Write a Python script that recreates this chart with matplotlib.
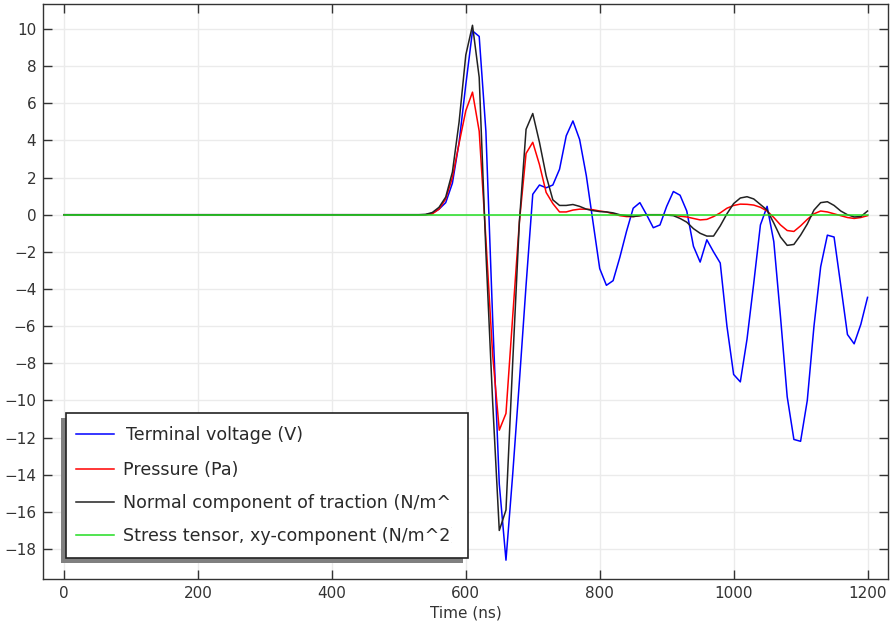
import matplotlib
matplotlib.use("Agg")
import matplotlib.pyplot as plt
from matplotlib.patches import Rectangle
from matplotlib.lines import Line2D
from matplotlib.transforms import Bbox, TransformedBbox

# sample times (ns): flat lead-in, then 10 ns steps
time = [0] + list(range(530, 1201, 10))

voltage = [0.0,
           0.0, 0.0, 0.08, 0.3, 0.65, 1.7, 3.9,
           7.0, 9.9, 9.6, 4.5, -5.5, -14.5, -18.6, -14.0, -9.0, -3.8,
           1.1, 1.6, 1.45, 1.6, 2.45, 4.25, 5.05, 4.05, 2.1, -0.4,
           -2.9, -3.8, -3.55, -2.3, -0.9, 0.35, 0.65, 0.0, -0.7, -0.55,
           0.45, 1.25, 1.05, 0.2, -1.7, -2.55, -1.35, -2.0, -2.6, -6.0,
           -8.6, -9.0, -6.7, -3.7, -0.55, 0.45, -1.45, -5.5, -9.8, -12.1,
           -12.2, -10.0, -6.0, -2.8, -1.1, -1.2, -3.8, -6.45, -6.95, -5.9,
           -4.45]

pressure = [0.0,
            0.0, 0.0, 0.05, 0.3, 0.85, 2.0, 3.85,
            5.6, 6.6, 4.5, -1.3, -7.5, -11.6, -10.7, -5.5, -0.4, 3.3,
            3.9, 2.7, 1.2, 0.6, 0.15, 0.15, 0.25, 0.3, 0.3, 0.27,
            0.2, 0.15, 0.05, -0.05, -0.1, -0.1, -0.05, 0.0, 0.0, 0.0,
            0.0, -0.02, -0.08, -0.12, -0.2, -0.28, -0.25, -0.1, 0.1, 0.35,
            0.5, 0.57, 0.56, 0.52, 0.4, 0.2, -0.15, -0.55, -0.85, -0.9,
            -0.6, -0.25, 0.05, 0.2, 0.15, 0.05, -0.05, -0.15, -0.2, -0.15,
            -0.05]

traction = [0.0,
            0.0, 0.02, 0.12, 0.4, 0.95, 2.3, 5.0,
            8.6, 10.2, 7.4, -2.0, -10.0, -17.0, -15.9, -8.0, -0.4, 4.6,
            5.45, 3.9, 2.1, 0.8, 0.5, 0.5, 0.55, 0.45, 0.3, 0.22,
            0.17, 0.15, 0.1, 0.0, -0.05, -0.1, -0.05, 0.0, 0.0, 0.0,
            -0.02, -0.05, -0.2, -0.4, -0.75, -1.0, -1.15, -1.15, -0.6, 0.05,
            0.6, 0.9, 0.97, 0.85, 0.55, 0.25, -0.45, -1.2, -1.65, -1.6,
            -1.1, -0.5, 0.25, 0.65, 0.7, 0.5, 0.2, 0.0, -0.12, -0.1,
            0.2]

stress_time = [0, 1200]
stress_xy = [0.0, 0.0]

labels = ["Terminal voltage (V)", "Pressure (Pa)",
          "Normal component of traction (N/m^2)",
          "Stress tensor, xy-component (N/m^2)"]
colors = ["#0000ff", "#ff0000", "#222222", "#22dd22"]

W, H = 890, 635
fig = plt.figure(figsize=(W / 100, H / 100), dpi=100)
ax = fig.add_axes([43.3 / W, 1 - 579.3 / H, (888.3 - 43.3) / W, (579.3 - 4.3) / H])

ax.plot(time, voltage, color=colors[0], lw=1.1)
ax.plot(time, pressure, color=colors[1], lw=1.1)
ax.plot(time, traction, color=colors[2], lw=1.1)
ax.plot(stress_time, stress_xy, color=colors[3], lw=1.1)

ax.set_xlim(-31, 1231)
ax.set_ylim(-19.63, 11.33)
ax.set_xticks(range(0, 1201, 200))
ax.set_yticks(range(-18, 11, 2))
ax.grid(True, color="#ebebeb", lw=1.0)
ax.set_axisbelow(True)
ax.tick_params(direction="in", length=6.5, width=1, top=True, right=True,
               labelsize=11, labelcolor="#333333", color="#333333", pad=5)
for s in ax.spines.values():
    s.set_color("#333333")
    s.set_linewidth(1.0)
ax.set_xlabel("Time (ns)", fontsize=11, color="#333333", labelpad=3)


def fx(px):
    return px / W


def fy(py):
    return 1 - py / H


# legend box with drop shadow, drawn by hand so long labels get cut at the frame
x0, x1, y0, y1 = 66, 468, 413, 558
fig.add_artist(Rectangle((fx(x0 - 5), fy(y1 + 5)), (x1 - x0) / W, (y1 - y0) / H,
                         transform=fig.transFigure, facecolor="#808080",
                         edgecolor="none", zorder=10))
fig.add_artist(Rectangle((fx(x0), fy(y1)), (x1 - x0) / W, (y1 - y0) / H,
                         transform=fig.transFigure, facecolor="white",
                         edgecolor="#222222", lw=1.2, zorder=11))
clip = TransformedBbox(Bbox.from_extents(fx(x0), fy(y1), fx(452.5), fy(y0)),
                       fig.transFigure)
rows = [434, 469, 502, 535]
text_x = [126.5, 123, 123, 123]
for lab, col, yy, tx in zip(labels, colors, rows, text_x):
    fig.add_artist(Line2D([fx(76), fx(114)], [fy(yy), fy(yy)], color=col,
                          lw=1.1, transform=fig.transFigure, zorder=12))
    t = fig.text(fx(tx), fy(yy + 1), lab, fontsize=12.6, color="#2a2a2a",
                 va="center", ha="left", zorder=12)
    t.set_clip_box(clip)
    t.set_clip_on(True)

fig.savefig("out.png", dpi=100)
